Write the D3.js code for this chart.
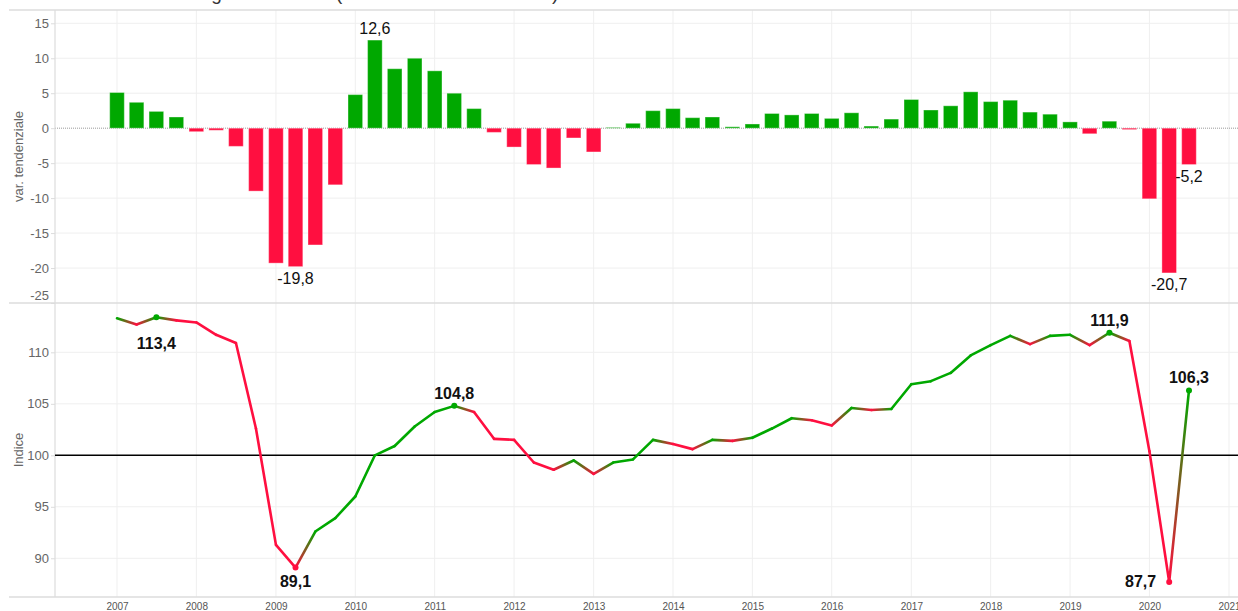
<!DOCTYPE html>
<html>
<head>
<meta charset="utf-8">
<script src="https://cdn.jsdelivr.net/npm/d3@7"></script>
<style>
  body { margin: 0; background: #fff; }
  svg { display: block; font-family: Arial, "Liberation Sans", sans-serif; }
</style>
</head>
<body>
<div id="chart"></div>
<script>
// quarterly observations (start of quarter)
const quarters = [
  "2007-01","2007-04","2007-07","2007-10",
  "2008-01","2008-04","2008-07","2008-10",
  "2009-01","2009-04","2009-07","2009-10",
  "2010-01","2010-04","2010-07","2010-10",
  "2011-01","2011-04","2011-07","2011-10",
  "2012-01","2012-04","2012-07","2012-10",
  "2013-01","2013-04","2013-07","2013-10",
  "2014-01","2014-04","2014-07","2014-10",
  "2015-01","2015-04","2015-07","2015-10",
  "2016-01","2016-04","2016-07","2016-10",
  "2017-01","2017-04","2017-07","2017-10",
  "2018-01","2018-04","2018-07","2018-10",
  "2019-01","2019-04","2019-07","2019-10",
  "2020-01","2020-04","2020-07"
];

// variazione tendenziale (%)
const varTendenziale = [
  5.1, 3.7, 2.4, 1.6,
  -0.5, -0.3, -2.6, -9.0,
  -19.3, -19.8, -16.7, -8.1,
  4.8, 12.6, 8.5, 10.0,
  8.2, 5.0, 2.8, -0.6,
  -2.7, -5.2, -5.7, -1.4,
  -3.4, 0.1, 0.7, 2.5,
  2.8, 1.5, 1.6, 0.2,
  0.6, 2.1, 1.9, 2.1,
  1.4, 2.2, 0.3, 1.3,
  4.1, 2.6, 3.2, 5.2,
  3.8, 4.0, 2.3, 2.0,
  0.9, -0.8, 1.0, -0.2,
  -10.1, -20.7, -5.2
];

// indice
const indice = [
  113.3, 112.7, 113.4, 113.1,
  112.9, 111.7, 110.9, 102.6,
  91.3, 89.1, 92.6, 93.9,
  96.0, 100.0, 100.9, 102.8,
  104.2, 104.8, 104.2, 101.6,
  101.5, 99.3, 98.6, 99.5,
  98.2, 99.3, 99.6, 101.5,
  101.1, 100.6, 101.5, 101.4,
  101.7, 102.6, 103.6, 103.4,
  102.9, 104.6, 104.4, 104.5,
  106.9, 107.2, 108.0, 109.7,
  110.7, 111.6, 110.8, 111.6,
  111.7, 110.7, 111.9, 111.1,
  100.4, 87.7, 106.3
];

const years = ["2007","2008","2009","2010","2011","2012","2013","2014",
               "2015","2016","2017","2018","2019","2020","2021"];
const barTicks = [15, 10, 5, 0, -5, -10, -15, -20, -25];
const lineTicks = [90, 95, 100, 105, 110];
const labelledBars = [9, 13, 53, 54];
const labelledPoints = [2, 9, 17, 50, 53, 54];

const titleText = "Fatturato generale Italia (numero indice 2015=100)";

const W = 1238, H = 611;
const GREEN = "#00a800", RED = "#ff0f40";
const GRID = "#efefef", FRAME = "#dcdcdc";
const left = 55, right = W;

const parseQ = d3.timeParse("%Y-%m");
const parseY = d3.timeParse("%Y");
const itLocale = d3.formatLocale({ decimal: ",", thousands: ".", grouping: [3], currency: ["", "€"], minus: "-" });
const itFmt = itLocale.format(".1f");
const intFmt = itLocale.format("d");

const rows = quarters.map((q, i) => ({ date: parseQ(q), v: varTendenziale[i], idx: indice[i] }));
rows.forEach((d, i) => {
  d.col = (i === 0 || d.idx >= rows[i - 1].idx) ? GREEN : RED;
});

const x = d3.scaleTime()
  .domain([parseY("2007"), parseY("2021")])
  .range([117, 1229]);

const yTop = d3.scaleLinear().domain([-25, 16.9]).range([303, 10]);
const yBot = d3.scaleLinear().domain([86.24, 114.79]).range([597, 303]);

const svg = d3.select("#chart").append("svg")
  .attr("width", W)
  .attr("height", H);

const defs = svg.append("defs");

// title (cut at the top, only descenders show)
svg.append("text")
  .attr("x", 130)
  .attr("y", 0)
  .style("font-size", "19px")
  .style("fill", "#333")
  .text(titleText);

// vertical year gridlines
svg.append("g")
  .selectAll("line")
  .data(years)
  .join("line")
  .attr("x1", d => x(parseY(d)))
  .attr("x2", d => x(parseY(d)))
  .attr("y1", 10)
  .attr("y2", 597)
  .attr("stroke", GRID);

// ---------- top panel: bars ----------
const topAxis = svg.append("g")
  .attr("transform", `translate(${left},0)`)
  .call(d3.axisLeft(yTop).tickValues(barTicks).tickSize(4).tickPadding(2).tickFormat(intFmt));
topAxis.select(".domain").remove();
topAxis.selectAll(".tick line").attr("stroke", FRAME);
topAxis.selectAll(".tick text")
  .style("font-size", "13px")
  .style("fill", "#666")
  .filter(d => d === -25).attr("y", -7.5);

svg.append("g")
  .selectAll("line")
  .data(barTicks.filter(d => d !== 0 && d !== -25))
  .join("line")
  .attr("x1", left).attr("x2", right)
  .attr("y1", d => yTop(d)).attr("y2", d => yTop(d))
  .attr("stroke", GRID);

svg.append("line")
  .attr("x1", left).attr("x2", right)
  .attr("y1", yTop(0)).attr("y2", yTop(0))
  .attr("stroke", "#999")
  .attr("stroke-dasharray", "1,1");

const barW = 14.6;
svg.append("g")
  .selectAll("rect")
  .data(rows)
  .join("rect")
  .attr("x", d => x(d.date) - barW / 2)
  .attr("width", barW)
  .attr("y", d => yTop(Math.max(0, d.v)))
  .attr("height", d => Math.abs(yTop(d.v) - yTop(0)))
  .attr("fill", d => d.v >= 0 ? GREEN : RED)
  .attr("stroke", "#fff")
  .attr("stroke-opacity", 0.35)
  .attr("stroke-width", 1);

svg.append("g")
  .selectAll("text")
  .data(labelledBars.map(i => rows[i]))
  .join("text")
  .attr("x", d => x(d.date))
  .attr("y", d => d.v >= 0 ? yTop(d.v) - 6 : yTop(d.v) + 17)
  .attr("text-anchor", "middle")
  .style("font-size", "16px")
  .style("fill", "#111")
  .text(d => itFmt(d.v));

svg.append("text")
  .attr("transform", `translate(23,${(yTop.range()[0] + yTop.range()[1]) / 2}) rotate(-90)`)
  .attr("text-anchor", "middle")
  .style("font-size", "13px")
  .style("fill", "#666")
  .text("var. tendenziale");

// ---------- bottom panel: index line ----------
const botAxis = svg.append("g")
  .attr("transform", `translate(${left},0)`)
  .call(d3.axisLeft(yBot).tickValues(lineTicks).tickSize(4).tickPadding(2).tickFormat(intFmt));
botAxis.select(".domain").remove();
botAxis.selectAll(".tick line").attr("stroke", FRAME);
botAxis.selectAll(".tick text")
  .style("font-size", "13px")
  .style("fill", "#666");

svg.append("g")
  .selectAll("line")
  .data(lineTicks.filter(d => d !== 100))
  .join("line")
  .attr("x1", left).attr("x2", right)
  .attr("y1", d => yBot(d)).attr("y2", d => yBot(d))
  .attr("stroke", GRID);

svg.append("text")
  .attr("transform", `translate(23,${(yBot.range()[0] + yBot.range()[1]) / 2}) rotate(-90)`)
  .attr("text-anchor", "middle")
  .style("font-size", "13px")
  .style("fill", "#666")
  .text("Indice");

// frame lines
svg.append("line").attr("x1", left).attr("x2", left).attr("y1", 10).attr("y2", 597)
  .attr("stroke", FRAME).attr("stroke-width", 1.2);
[10, 303, 597].forEach(yy => {
  svg.append("line").attr("x1", 9).attr("x2", right).attr("y1", yy).attr("y2", yy)
    .attr("stroke", FRAME).attr("stroke-width", 1.6);
});

// reference at 100
svg.append("line")
  .attr("x1", left).attr("x2", right)
  .attr("y1", yBot(100)).attr("y2", yBot(100))
  .attr("stroke", "#000")
  .attr("stroke-width", 1.5);

// line as segments, each one shaded from one point colour to the next
const seg = d3.line().x(d => x(d.date)).y(d => yBot(d.idx));
const lineG = svg.append("g");
d3.pairs(rows).forEach(([a, b], i) => {
  let stroke = a.col;
  if (a.col !== b.col) {
    const id = "seg" + i;
    const lg = defs.append("linearGradient")
      .attr("id", id)
      .attr("gradientUnits", "userSpaceOnUse")
      .attr("x1", x(a.date)).attr("y1", yBot(a.idx))
      .attr("x2", x(b.date)).attr("y2", yBot(b.idx));
    lg.append("stop").attr("offset", 0).attr("stop-color", a.col);
    lg.append("stop").attr("offset", 1).attr("stop-color", b.col);
    stroke = `url(#${id})`;
  }
  lineG.append("path")
    .attr("d", seg([a, b]))
    .attr("fill", "none")
    .attr("stroke", stroke)
    .attr("stroke-width", 2.6)
    .attr("stroke-linecap", "round");
});

// highlighted points
const labelOffset = {
  2: [0, 32, "middle"],
  9: [0, 19, "middle"],
  17: [0, -7, "middle"],
  50: [0, -7, "middle"],
  53: [-13, 5, "end"],
  54: [0, -7, "middle"]
};
const pts = labelledPoints.map(i => Object.assign({ i }, rows[i]));

svg.append("g")
  .selectAll("circle")
  .data(pts)
  .join("circle")
  .attr("cx", d => x(d.date))
  .attr("cy", d => yBot(d.idx))
  .attr("r", 3)
  .attr("fill", d => d.col);

svg.append("g")
  .selectAll("text")
  .data(pts)
  .join("text")
  .attr("x", d => x(d.date) + labelOffset[d.i][0])
  .attr("y", d => yBot(d.idx) + labelOffset[d.i][1])
  .attr("text-anchor", d => labelOffset[d.i][2])
  .style("font-size", "16px")
  .style("font-weight", "bold")
  .style("fill", "#111")
  .text(d => itFmt(d.idx));

// x axis (years)
const xAxis = svg.append("g")
  .attr("transform", "translate(0,597)")
  .call(d3.axisBottom(x).tickValues(years.map(parseY)).tickSize(0).tickPadding(6).tickFormat(d3.timeFormat("%Y")));
xAxis.select(".domain").remove();
xAxis.selectAll("text")
  .style("font-size", "10px")
  .style("fill", "#555");
</script>
</body>
</html>
